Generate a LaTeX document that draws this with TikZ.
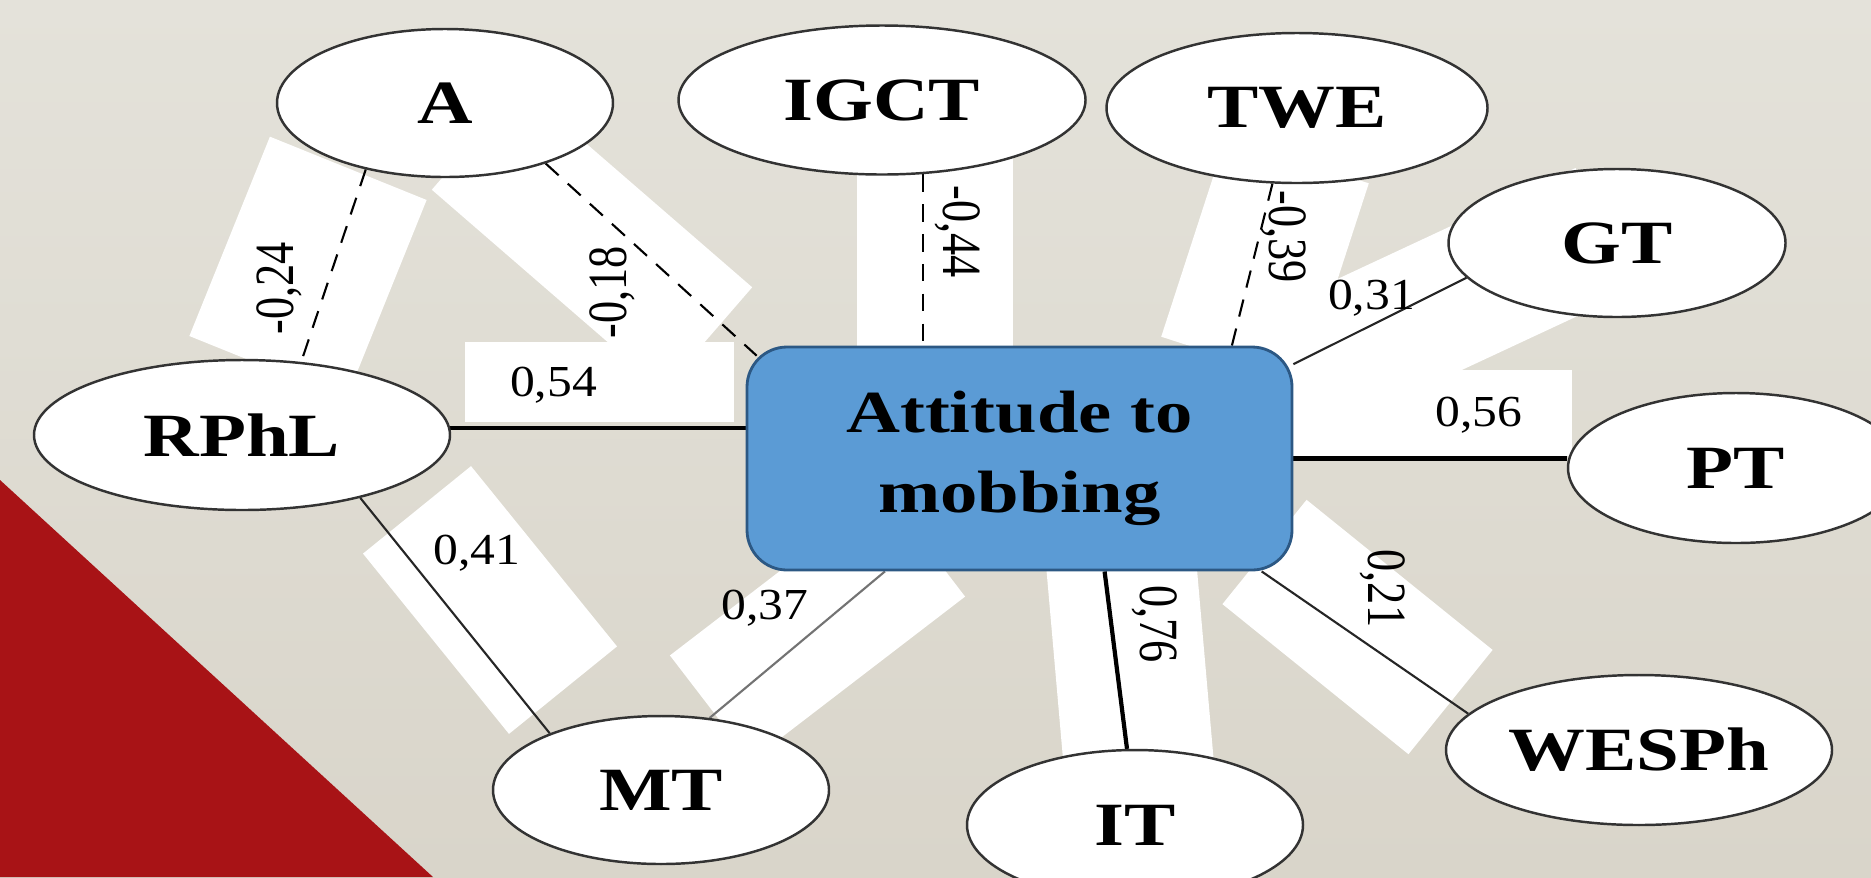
\documentclass[tikz,border=0pt]{standalone}
\usepackage{fontspec}
\usepackage{graphicx}
\setmainfont{Liberation Serif}
\newfontfamily\nodefont[FakeStretch=1.25]{Liberation Serif}
\newfontfamily\numfont[FakeStretch=1.12]{Liberation Serif}
\usetikzlibrary{shapes.geometric}

\definecolor{paper}{RGB}{228,226,218}
\definecolor{paperdark}{RGB}{217,213,202}
\definecolor{slidered}{RGB}{168,19,22}
\definecolor{corefill}{RGB}{91,155,213}
\definecolor{coreline}{RGB}{44,88,132}
\newcommand{\vnum}[1]{\scalebox{1}[1.25]{#1}}

\pgfdeclarelayer{bg}
\pgfdeclarelayer{links}
\pgfsetlayers{bg,links,main}

\begin{document}
\begin{tikzpicture}
            \tikzstyle{factor}     = [ellipse, draw=black!80, line width=0.7pt, fill=white, inner sep=0pt, font={\nodefont\bfseries\fontsize{17.5pt}{21pt}\selectfont}]
            \tikzstyle{core}       = [rectangle, rounded corners=0.4cm, draw=coreline, line width=0.8pt, fill=corefill, align=center, font={\nodefont\bfseries\fontsize{17pt}{22.8pt}\selectfont}]
            \tikzstyle{band}       = [rectangle, fill=white, inner sep=0pt]
            \tikzstyle{weight}     = [inner sep=0pt, font={\numfont\fontsize{12.6pt}{14pt}\selectfont}]
            \tikzstyle{vweight}    = [inner sep=0pt, font={\fontsize{12.6pt}{14pt}\selectfont}]
            \tikzstyle{negline}    = [draw=black, line width=0.6pt, dash pattern=on 5pt off 3.5pt]
            \tikzstyle{posline}    = [draw=black!85, line width=0.6pt]
            \tikzstyle{strongline} = [draw=black, line width=1.2pt]

            \useasboundingbox (0,0) rectangle (18.71,-8.77);

            \node[core, minimum width=5.45cm, minimum height=2.23cm] (att) at (10.195,-4.585) {Attitude to\\mobbing};

            \node[factor, minimum width=3.36cm, minimum height=1.48cm] (A) at (4.45,-1.03) {A};
            \node[factor, minimum width=4.07cm, minimum height=1.49cm] (IGCT) at (8.82,-1.00) {IGCT};
            \node[factor, minimum width=3.81cm, minimum height=1.50cm] (TWE) at (12.97,-1.08) {TWE};
            \node[factor, minimum width=3.37cm, minimum height=1.48cm] (GT) at (16.17,-2.43) {GT};
            \node[factor, minimum width=3.36cm, minimum height=1.50cm] (PT) at (17.36,-4.68) {PT};
            \node[factor, minimum width=3.86cm, minimum height=1.50cm] (WESPh) at (16.39,-7.50) {WESPh};
            \node[factor, minimum width=3.36cm, minimum height=1.50cm] (IT) at (11.35,-8.25) {IT};
            \node[factor, minimum width=3.36cm, minimum height=1.48cm] (MT) at (6.61,-7.90) {MT};
            \node[factor, minimum width=4.16cm, minimum height=1.50cm] (RPhL) at (2.42,-4.35) {RPhL};

            % Weights
            \node[vweight, rotate=90] (w24) at (2.79,-2.885) {\vnum{-0,24}};
            \node[vweight, rotate=90] (w18) at (6.12,-2.925) {\vnum{-0,18}};
            \node[vweight, rotate=-90] (w44) at (9.58,-2.32) {\vnum{-0,44}};
            \node[vweight, rotate=-90] (w39) at (12.84,-2.37) {\vnum{-0,39}};
            \node[vweight, rotate=-90] (w76) at (11.55,-6.24) {\vnum{0,76}};
            \node[vweight, rotate=-90] (w21) at (13.83,-5.885) {\vnum{0,21}};
            \node[weight] (w54) at (5.535,-3.85) {0,54};
            \node[weight] (w56) at (14.79,-4.15) {0,56};
            \node[weight] (w31) at (13.715,-2.98) {0,31};
            \node[weight] (w41) at (4.77,-5.53) {0,41};
            \node[weight] (w37) at (7.65,-6.08) {0,37};

            \begin{pgfonlayer}{links}
            \draw[negline] (A.220) -- (RPhL.51);
            \draw[negline, shorten >=-0.15cm] (A.329) -- (att.north west);
            \draw[negline] (IGCT.299) -- (IGCT.299 |- att.north);
            \draw[negline] (TWE.252) -- (att.28.4);
            \draw[posline] (GT.193) -- (att.19.5);
            \draw[strongline] (att.east) -- (att.east -| PT.west);
            \draw[posline] (att.335.6) -- (WESPh.168);
            \draw[strongline] (att.307.8) -- (IT.96);
            \draw[posline, draw=black!55] (att.220.7) -- (MT.56);
            \draw[posline] (RPhL.332.3) -- (MT.153.6);
            \draw[strongline] (RPhL.2) -- (RPhL.2 -| att.west);
            \end{pgfonlayer}

            % Background and white bands
            \begin{pgfonlayer}{bg}
            \shade[top color=paper, bottom color=paperdark] (0,0) rectangle (18.71,-8.77);
            \fill[slidered] (0,-4.80) -- (4.33,-8.77) -- (0,-8.77) -- cycle;

            \node[band, minimum width=2.15cm, minimum height=1.69cm, rotate=68] (bandA) at (3.08,-2.68) {};
            \node[band, minimum width=3.06cm, minimum height=1.36cm, rotate=-40.9] (bandB) at (5.92,-2.385) {};
            \node[band, minimum width=1.56cm, minimum height=1.97cm] (bandC) at (9.35,-2.485) {};
            \node[band, minimum width=2.10cm, minimum height=1.50cm, rotate=72] (bandD) at (12.65,-2.60) {};
            \node[band, minimum width=3.40cm, minimum height=1.35cm, rotate=25] (bandE) at (14.50,-3.01) {};
            \node[band, minimum width=2.79cm, minimum height=0.86cm] (bandF) at (14.325,-4.13) {};
            \node[band, minimum width=2.69cm, minimum height=0.80cm] (bandG) at (5.995,-3.82) {};
            \node[band, minimum width=2.32cm, minimum height=1.39cm, rotate=-51] (bandH) at (4.90,-6.00) {};
            \node[band, minimum width=2.70cm, minimum height=1.33cm, rotate=37.5] (bandI) at (8.175,-6.26) {};
            \node[band, minimum width=2.21cm, minimum height=1.50cm, rotate=95] (bandJ) at (11.305,-6.70) {};
            \node[band, minimum width=2.39cm, minimum height=1.34cm, rotate=-38.9] (bandK) at (13.575,-6.27) {};
            \end{pgfonlayer}
        \end{tikzpicture}
\end{document}
